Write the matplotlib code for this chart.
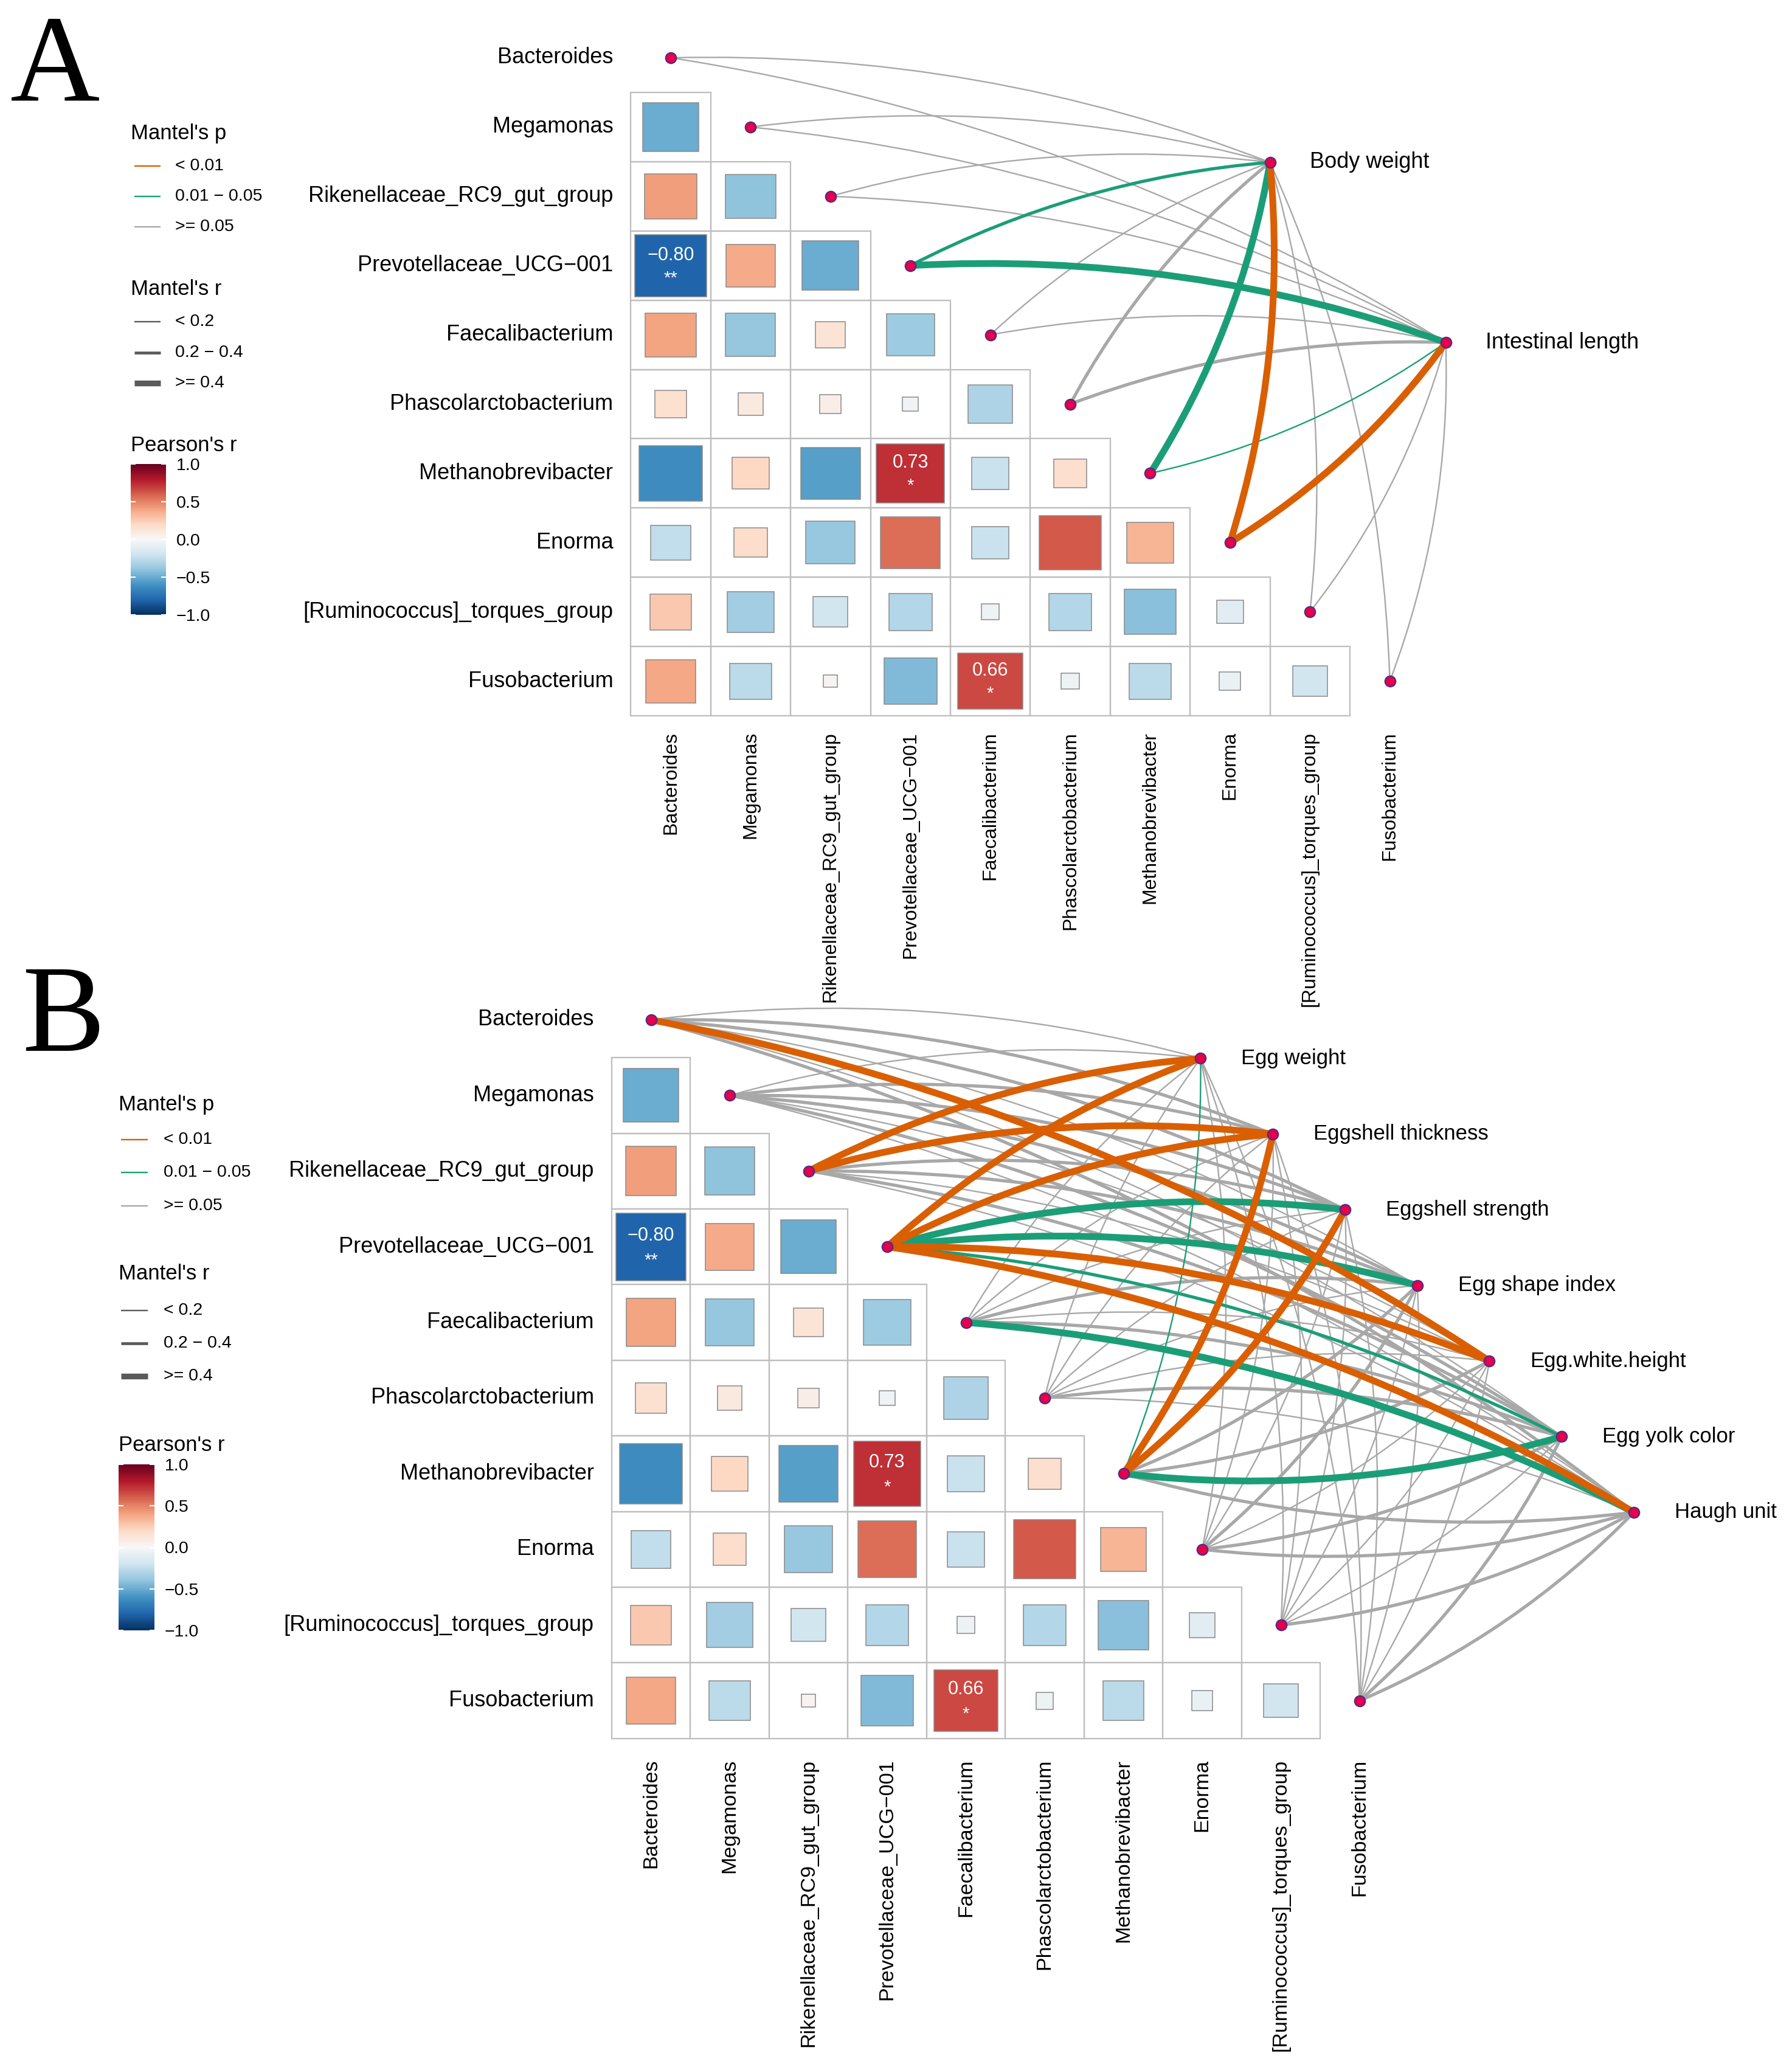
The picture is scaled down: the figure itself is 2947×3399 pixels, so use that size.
import numpy as np
import matplotlib
matplotlib.use("Agg")
import matplotlib as mpl
from matplotlib import pyplot as plt
from matplotlib.patches import Rectangle, PathPatch
from matplotlib.path import Path

plt.rcParams["font.family"] = ["Liberation Sans", "DejaVu Sans"]

# Genera: rows and columns of the correlation triangle (same in A and B)
genera = ["Bacteroides", "Megamonas", "Rikenellaceae_RC9_gut_group",
          "Prevotellaceae_UCG\u2212001", "Faecalibacterium", "Phascolarctobacterium",
          "Methanobrevibacter", "Enorma", "[Ruminococcus]_torques_group", "Fusobacterium"]

# Pearson's r, lower triangle (row i, columns 0..i-1)
pearson_r = [
    [],
    [-0.50],
    [0.42, -0.40],
    [-0.80, 0.38, -0.50],
    [0.40, -0.39, 0.14, -0.36],
    [0.16, 0.10, 0.07, -0.04, -0.31],
    [-0.63, 0.21, -0.55, 0.73, -0.22, 0.17],
    [-0.25, 0.18, -0.38, 0.56, -0.22, 0.61, 0.34],
    [0.27, -0.35, -0.19, -0.29, -0.05, -0.29, -0.42, -0.11],
    [0.39, -0.27, 0.03, -0.44, 0.66, -0.05, -0.27, -0.07, -0.19],
]
# significance marks of the Pearson correlations
pearson_sig = [
    [],
    [""],
    ["", ""],
    ["**", "", ""],
    ["", "", "", ""],
    ["", "", "", "", ""],
    ["", "", "", "*", "", ""],
    ["", "", "", "", "", "", ""],
    ["", "", "", "", "", "", "", ""],
    ["", "", "", "", "*", "", "", "", ""],
]

# Panel A: Mantel tests (one row per trait, one column per genus)
traits_a = ["Body weight", "Intestinal length"]
mantel_r_a = [
    [0.12, 0.10, 0.13, 0.31, 0.08, 0.27, 0.45, 0.43, 0.11, 0.09],
    [0.09, 0.11, 0.14, 0.47, 0.12, 0.29, 0.17, 0.46, 0.10, 0.13],
]
mantel_p_a = [
    [0.31, 0.42, 0.28, 0.032, 0.55, 0.09, 0.021, 0.006, 0.37, 0.46],
    [0.48, 0.36, 0.22, 0.012, 0.30, 0.07, 0.043, 0.004, 0.40, 0.33],
]

# Panel B: Mantel tests
traits_b = ["Egg weight", "Eggshell thickness", "Eggshell strength", "Egg shape index",
            "Egg.white.height", "Egg yolk color", "Haugh unit"]
mantel_r_b = [
    [0.12, 0.10, 0.45, 0.44, 0.09, 0.11, 0.13, 0.10, 0.08, 0.12],
    [0.25, 0.24, 0.46, 0.47, 0.11, 0.08, 0.48, 0.14, 0.09, 0.10],
    [0.26, 0.27, 0.30, 0.42, 0.13, 0.12, 0.44, 0.15, 0.12, 0.11],
    [0.15, 0.24, 0.28, 0.46, 0.25, 0.16, 0.27, 0.24, 0.14, 0.13],
    [0.43, 0.14, 0.12, 0.45, 0.10, 0.09, 0.26, 0.12, 0.11, 0.15],
    [0.13, 0.26, 0.29, 0.33, 0.27, 0.22, 0.48, 0.28, 0.16, 0.25],
    [0.27, 0.17, 0.18, 0.44, 0.47, 0.14, 0.31, 0.29, 0.23, 0.32],
]
mantel_p_b = [
    [0.21, 0.33, 0.004, 0.003, 0.45, 0.38, 0.041, 0.29, 0.52, 0.36],
    [0.08, 0.11, 0.002, 0.006, 0.27, 0.49, 0.001, 0.22, 0.40, 0.31],
    [0.07, 0.09, 0.06, 0.018, 0.24, 0.33, 0.007, 0.19, 0.28, 0.44],
    [0.18, 0.10, 0.12, 0.024, 0.09, 0.30, 0.08, 0.11, 0.35, 0.27],
    [0.003, 0.26, 0.31, 0.005, 0.39, 0.42, 0.10, 0.25, 0.37, 0.21],
    [0.23, 0.08, 0.07, 0.036, 0.10, 0.14, 0.015, 0.09, 0.26, 0.12],
    [0.09, 0.20, 0.17, 0.004, 0.028, 0.34, 0.06, 0.07, 0.13, 0.08],
]

p_labels = ["< 0.01", "0.01 \u2212 0.05", ">= 0.05"]
r_labels = ["< 0.2", "0.2 \u2212 0.4", ">= 0.4"]
cbar_ticks = [-1.0, -0.5, 0.0, 0.5, 1.0]

# styles
W, H, DPI = 2947, 3399, 100
P_COLORS = ["#D95F02", "#1B9E77", "#A8A8A8"]
R_WIDTHS = [1.7, 3.8, 8.0]
GRID_C = "#BDBDBD"
SQ_EDGE = "#8A8A8A"
NODE_FC = "#E5004A"
NODE_EC = "#4B2C8C"
CURV = 0.1
cmap = plt.get_cmap("RdBu_r")
norm = mpl.colors.Normalize(-1, 1)


def p_class(p):
    return 0 if p < 0.01 else (1 if p < 0.05 else 2)


def r_class(r):
    return 0 if r < 0.2 else (1 if r < 0.4 else 2)


def minus(s):
    return s.replace("-", "\u2212")


fig = plt.figure(figsize=(W / DPI, H / DPI), dpi=DPI)
page = fig.add_axes([0, 0, 1, 1])
page.set_xlim(0, W)
page.set_ylim(H, 0)
page.axis("off")


def panel_axes(x0, y0, cw, ch):
    """Axes in cell units: cell (j, i) is centred at pixel (x0 + j*cw, y0 + i*ch)."""
    ax = fig.add_axes([0, 0, 1, 1], facecolor="none")
    ax.set_xlim(-x0 / cw, (W - x0) / cw)
    ax.set_ylim((H - y0) / ch, -y0 / ch)
    ax.axis("off")
    return ax


def draw_triangle(ax, cw, ch, row_size, col_size, row_gap, col_gap):
    n = len(genera)
    for i in range(1, n):
        for j in range(i):
            ax.add_patch(Rectangle((j - 0.5, i - 0.5), 1, 1, fill=False,
                                   ec=GRID_C, lw=1.6, zorder=1))
            r = pearson_r[i][j]
            side = np.sqrt(abs(r))
            ax.add_patch(Rectangle((j - side / 2, i - side / 2), side, side,
                                   fc=cmap(norm(r)), ec=SQ_EDGE, lw=1.1, zorder=2))
            mark = pearson_sig[i][j]
            if mark:
                ax.text(j, i - 0.15, minus(f"{r:.2f}"), color="white", fontsize=22,
                        ha="center", va="center", zorder=3)
                ax.text(j, i + 0.18, mark, color="white", fontsize=21,
                        ha="center", va="center", zorder=3)
    for i, g in enumerate(genera):
        ax.text(-0.5 - row_gap / cw, i, g, ha="right", va="center", fontsize=row_size)
        ax.text(i, n - 0.5 + col_gap / ch, g, ha="center", va="top",
                rotation=90, fontsize=col_size)


def draw_links(ax, cw, ch, env_xy, traits, mantel_r, mantel_p, label_size, label_gap):
    n = len(genera)
    links = []
    for e, (ex, ey) in enumerate(env_xy):
        for g in range(n):
            pc = p_class(mantel_p[e][g])
            rc = r_class(mantel_r[e][g])
            links.append((-pc, rc, e, g))
    links.sort()
    for npc, rc, e, g in links:
        ex, ey = env_xy[e]
        p0 = np.array([ex * cw, ey * ch])
        p1 = np.array([g * cw, g * ch])
        d = p1 - p0
        length = np.hypot(*d)
        nrm = np.array([-d[1], d[0]]) / length
        side = 1.0 if g < 6 else -1.0
        ctrl = (p0 + p1) / 2 + side * CURV * length * nrm
        verts = [(ex, ey), (ctrl[0] / cw, ctrl[1] / ch), (g, g)]
        path = Path(verts, [Path.MOVETO, Path.CURVE3, Path.CURVE3])
        ax.add_patch(PathPatch(path, fill=False, ec=P_COLORS[-npc], lw=R_WIDTHS[rc],
                               capstyle="butt", zorder=4))
    ax.scatter(range(n), range(n), s=160, c=NODE_FC, edgecolors=NODE_EC,
               linewidths=1.5, zorder=6)
    ex = [p[0] for p in env_xy]
    ey = [p[1] for p in env_xy]
    ax.scatter(ex, ey, s=160, c=NODE_FC, edgecolors=NODE_EC, linewidths=1.5, zorder=6)
    for (x, y), t in zip(env_xy, traits):
        ax.text(x + label_gap / cw, y, t, ha="left", va="center", fontsize=label_size)


def draw_legend(x, line_x, text_x, y_p, ys_p, y_r, ys_r, y_c, cbar_box):
    page.text(x, y_p, "Mantel's p", fontsize=25, ha="left", va="center")
    for yy, col, lab in zip(ys_p, P_COLORS, p_labels):
        page.plot(line_x, [yy, yy], color=col, lw=1.7, solid_capstyle="butt")
        page.text(text_x, yy, lab, fontsize=20.5, ha="left", va="center")
    page.text(x, y_r, "Mantel's r", fontsize=25, ha="left", va="center")
    for yy, lw, lab in zip(ys_r, [1.7, 3.4, 6.8], r_labels):
        page.plot(line_x, [yy, yy], color="#5A5A5A", lw=lw, solid_capstyle="butt")
        page.text(text_x, yy, lab, fontsize=20.5, ha="left", va="center")
    page.text(x, y_c, "Pearson's r", fontsize=25, ha="left", va="center")
    bx0, by0, bx1, by1 = cbar_box
    cax = fig.add_axes([bx0 / W, 1 - by1 / H, (bx1 - bx0) / W, (by1 - by0) / H])
    cb = mpl.colorbar.ColorbarBase(cax, cmap=cmap, norm=norm, orientation="vertical")
    cb.outline.set_visible(False)
    cb.set_ticks(cbar_ticks)
    cb.set_ticklabels([minus(f"{t:.1f}") for t in cbar_ticks])
    cax.tick_params(direction="in", color="white", length=6, width=1.5,
                    left=True, right=True, labelleft=False, labelright=True,
                    labelsize=20.5, pad=12)


# ---------------- Panel A ----------------
ax_a = panel_axes(1103, 95, 131.4, 113.9)
draw_triangle(ax_a, 131.4, 113.9, 26, 23, 29, 26)
env_a = [(7.5, 1.51), (9.70, 4.11)]
draw_links(ax_a, 131.4, 113.9, env_a, traits_a, mantel_r_a, mantel_p_a, 26, 65)
draw_legend(215, [221, 264], 288, 219, [273, 323, 373], 475, [529, 580, 630],
            732, (215, 763, 273, 1011))
page.text(17, 164, "A", fontfamily=["Liberation Serif", "DejaVu Serif"], fontsize=147,
          ha="left", va="baseline")

# ---------------- Panel B ----------------
ax_b = panel_axes(1070.5, 1677, 129.5, 124.4)
draw_triangle(ax_b, 129.5, 124.4, 26, 24.5, 29, 34)
env_b = [(6.98 + 0.917 * k, 0.51 + 1.0 * k) for k in range(len(traits_b))]
draw_links(ax_b, 129.5, 124.4, env_b, traits_b, mantel_r_b, mantel_p_b, 25, 67)
draw_legend(195, [199, 243], 269, 1816, [1874, 1928, 1983], 2095, [2155, 2209, 2263],
            2377, (195, 2408, 254, 2681))
page.text(36, 1728, "B", fontfamily=["Liberation Serif", "DejaVu Serif"], fontsize=147,
          ha="left", va="baseline")

fig.savefig("out.png", dpi=DPI, facecolor="white")
